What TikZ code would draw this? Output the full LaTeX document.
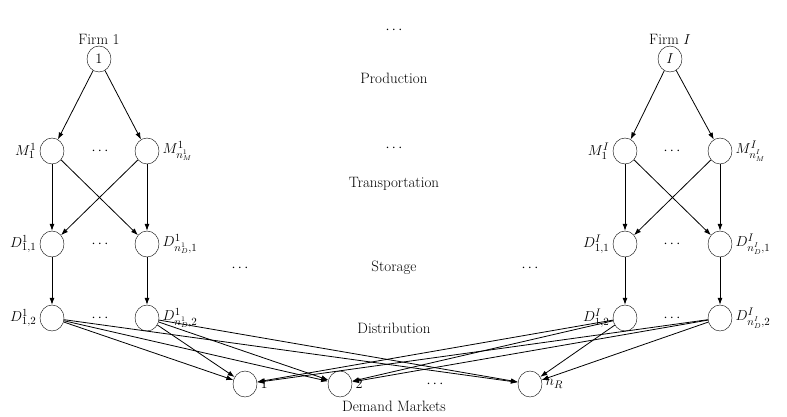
\documentclass[tikz,border=0pt]{standalone}
\usetikzlibrary{arrows.meta,shapes.geometric}
\begin{document}
\begin{tikzpicture}[x=1pt,y=-1pt,font=\fontsize{15}{18}\selectfont,
  nd/.style={draw,ellipse,minimum width=24pt,minimum height=26pt,inner sep=0pt},
  arr/.style={-{Latex[length=7pt,width=5pt]},thick}]
\useasboundingbox (0,0) rectangle (787,416);
% firm 1
\node[nd](F1)at(99,59){$1$};
\node[above=-2pt]at(F1.north){Firm 1};
\node[nd,label=left:{$M^1_1$}](M11)at(52,151){};
\node[nd,label=right:{$M^1_{n^1_M}$}](M12)at(147,151){};
\node[nd,label=left:{$D^1_{1,1}$}](S11)at(52,244){};
\node[nd,label=right:{$D^1_{n^1_D,1}$}](S12)at(147,244){};
\node[nd,label=left:{$D^1_{1,2}$}](T11)at(52,318){};
\node[nd,label=right:{$D^1_{n^1_D,2}$}](T12)at(147,318){};
% firm I
\node[nd](FI)at(670,59){$I$};
\node[above=-2pt]at(FI.north){Firm $I$};
\node[nd,label=left:{$M^I_1$}](MI1)at(625,151){};
\node[nd,label=right:{$M^I_{n^I_M}$}](MI2)at(720,151){};
\node[nd,label=left:{$D^I_{1,1}$}](SI1)at(625,244){};
\node[nd,label=right:{$D^I_{n^I_D,1}$}](SI2)at(720,244){};
\node[nd,label=left:{$D^I_{1,2}$}](TI1)at(625,318){};
\node[nd,label=right:{$D^I_{n^I_D,2}$}](TI2)at(720,318){};
% demand markets
\node[nd,label=right:{$1$}](R1)at(245,384){};
\node[nd,label=right:{$2$}](R2)at(340,384){};
\node[nd,label=right:{$n_R$}](R3)at(530,384){};
% texts
\node at(394,78){Production};
\node at(394,184){Transportation};
\node at(394,268){Storage};
\node at(394,328){Distribution};
\node at(394,406){Demand Markets};
\foreach \p in{(394,30),(394,148),(100,151),(672,151),(100,244),(672,244),
  (100,318),(672,318),(240,268),(530,268),(435,384)}
\node at\p{$\cdots$};
% links
\foreach \f/\a/\b/\c/\d/\e/\g in{F1/M11/M12/S11/S12/T11/T12,FI/MI1/MI2/SI1/SI2/TI1/TI2}{
\draw[arr](\f)--(\a);\draw[arr](\f)--(\b);
\draw[arr](\a)--(\c);\draw[arr](\a)--(\d);
\draw[arr](\b)--(\c);\draw[arr](\b)--(\d);
\draw[arr](\c)--(\e);\draw[arr](\d)--(\g);}
\foreach \s in{T11,T12,TI1,TI2}\foreach \r in{R1,R2,R3}
\draw[arr](\s)--(\r);
\end{tikzpicture}
\end{document}
